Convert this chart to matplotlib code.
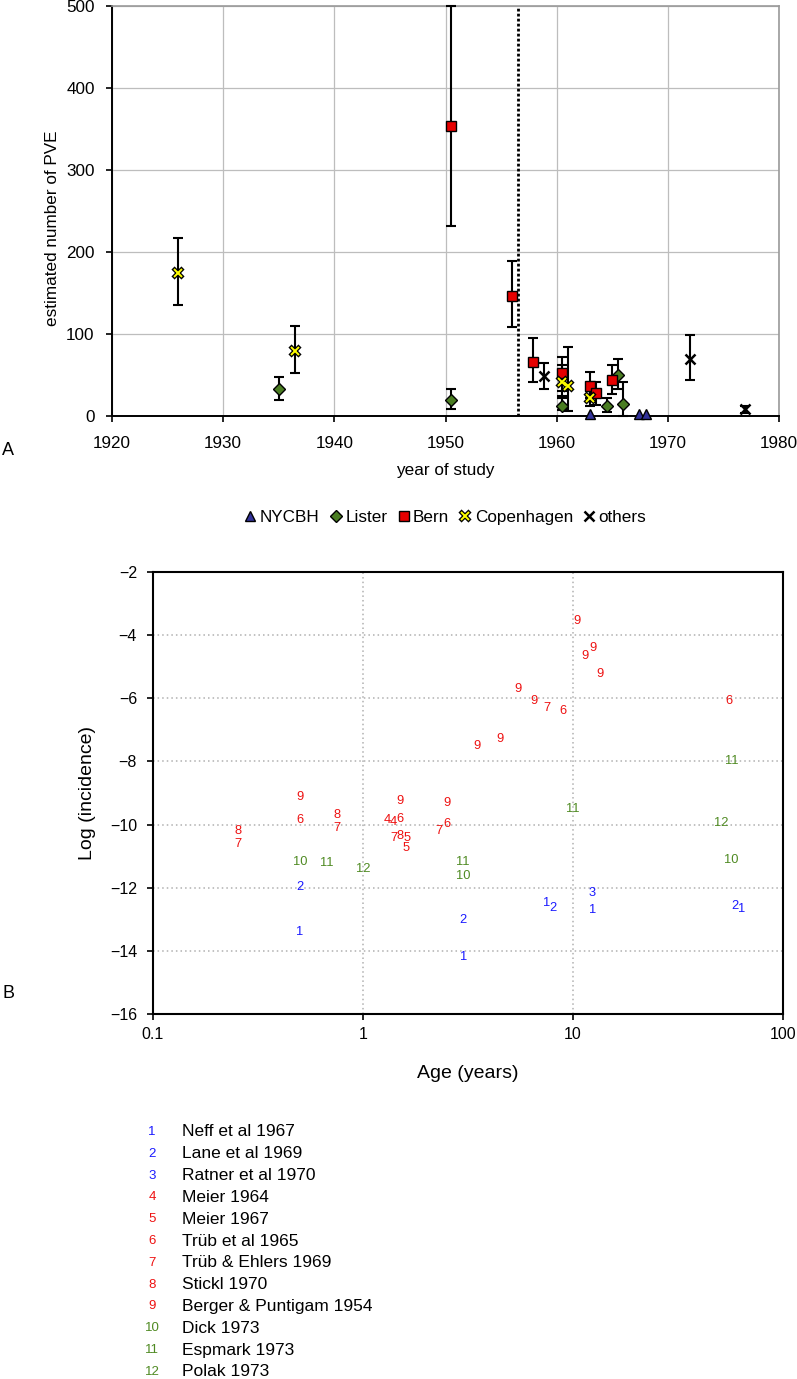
import matplotlib
matplotlib.use('Agg')
import matplotlib.pyplot as plt
from matplotlib.legend_handler import HandlerTuple

plt.rcParams['font.family'] = ['Liberation Sans', 'DejaVu Sans']

# ---------------- Panel A data ----------------
nycbh_year = [1963.0, 1967.4, 1968.0]
nycbh_val = [2, 2, 2]

lister_year = [1935.0, 1950.5, 1960.5, 1964.5, 1965.5, 1966.0]
lister_val = [33, 20, 12, 12, 50, 15]
lister_lo = [20, 8, 7, 5, 33, 0]
lister_hi = [47, 33, 22, 22, 69, 42]

bern_year = [1950.5, 1956.0, 1957.9, 1960.5, 1963.0, 1963.5, 1965.0]
bern_val = [354, 146, 66, 52, 37, 28, 44]
bern_lo = [232, 108, 41, 30, 22, 14, 27]
bern_hi = [500, 189, 95, 72, 54, 41, 62]

copen_year = [1925.9, 1936.5, 1960.5, 1961.0, 1963.0]
copen_val = [174, 79, 41, 36, 22]
copen_lo = [135, 52, 25, 6, 12]
copen_hi = [217, 110, 62, 84, 30]

others_year = [1958.9, 1972.0, 1976.9]
others_val = [49, 69, 8]
others_lo = [33, 44, 4]
others_hi = [65, 99, 12]

cutoff_year = 1956.5

# ---------------- Panel B data ----------------
study_names = ["Neff et al 1967", "Lane et al 1969", "Ratner et al 1970",
               "Meier 1964", "Meier 1967", "Trüb et al 1965",
               "Trüb & Ehlers 1969", "Stickl 1970", "Berger & Puntigam 1954",
               "Dick 1973", "Espmark 1973", "Polak 1973"]
study_group = ['blue', 'blue', 'blue', 'red', 'red', 'red', 'red', 'red',
               'red', 'green', 'green', 'green']

label_ids = [1, 1, 1, 1, 1,
             2, 2, 2, 2,
             3,
             4, 4,
             5, 5,
             6, 6, 6, 6, 6,
             7, 7, 7, 7, 7,
             8, 8, 8,
             9, 9, 9, 9, 9, 9, 9, 9, 9, 9, 9,
             10, 10, 10,
             11, 11, 11, 11,
             12, 12]
label_ages = [0.5, 3.0, 7.5, 12.4, 63.4,
              0.5, 3.0, 8.0, 59.3,
              12.4,
              1.31, 1.40,
              1.63, 1.60,
              0.5, 1.5, 2.5, 9.0, 55.5,
              0.253, 0.75, 1.40, 2.30, 7.5,
              0.253, 0.75, 1.50,
              0.5, 1.5, 2.5, 3.5, 4.5, 5.5, 6.5, 10.5, 11.4, 12.5, 13.4,
              0.5, 3.0, 57.0,
              0.67, 3.0, 10.0, 56.9,
              1.0, 50.7]
label_vals = [-13.41, -14.20, -12.49, -12.71, -12.67,
              -11.97, -13.02, -12.65, -12.58,
              -12.18,
              -9.86, -9.91,
              -10.42, -10.74,
              -9.86, -9.82, -9.98, -6.39, -6.09,
              -10.62, -10.12, -10.44, -10.19, -6.32,
              -10.20, -9.70, -10.36,
              -9.12, -9.24, -9.33, -7.50, -7.29, -5.72, -6.09, -3.55, -4.66, -4.40, -5.23,
              -11.20, -11.63, -11.12,
              -11.21, -11.18, -9.52, -7.98,
              -11.42, -9.96]

group_colors = {'blue': '#1a1aff', 'red': '#ee1111', 'green': '#4f8a22'}

# ---------------- Figure ----------------
W, H = 797, 1379
fig = plt.figure(figsize=(W / 100, H / 100), dpi=100)


def fx(px):
    return px / W


def fy(py):
    return 1 - py / H


# ---------------- Panel A ----------------
axA = fig.add_axes([fx(112), fy(416), fx(779) - fx(112), fy(6) - fy(416)])
axA.set_xlim(1920, 1980)
axA.set_ylim(0, 500)
axA.set_xticks(range(1920, 1981, 10))
axA.set_yticks(range(0, 501, 100))
axA.grid(True, color='#bdbdbd', lw=0.9)
axA.set_axisbelow(True)
for s in ['left', 'bottom']:
    axA.spines[s].set_color('black')
    axA.spines[s].set_linewidth(1.4)
for s in ['top', 'right']:
    axA.spines[s].set_color('#9a9a9a')
    axA.spines[s].set_linewidth(1.2)
axA.tick_params(direction='out', length=4.5, width=1.2, labelsize=12.3, pad=8)
axA.tick_params(axis='x', pad=10)

axA.axvline(cutoff_year, color='black', lw=2.0, linestyle=(0, (1, 0.8)), zorder=2)


def ebar(ax, x, y, lo, hi):
    yerr = [[v - l for v, l in zip(y, lo)], [h - v for v, h in zip(y, hi)]]
    ax.errorbar(x, y, yerr=yerr, fmt='none', ecolor='black', elinewidth=1.5,
                capsize=3.5, capthick=1.5, zorder=3, clip_on=False)


ebar(axA, lister_year, lister_val, lister_lo, lister_hi)
ebar(axA, bern_year, bern_val, bern_lo, bern_hi)
ebar(axA, copen_year, copen_val, copen_lo, copen_hi)
ebar(axA, others_year, others_val, others_lo, others_hi)

ms = 7.5
h_nycbh, = axA.plot(nycbh_year, nycbh_val, ls='none', marker='^', ms=ms,
                    mfc='#33339a', mec='black', mew=1.0, zorder=5, clip_on=False)
h_lister, = axA.plot(lister_year, lister_val, ls='none', marker='D', ms=6.5,
                     mfc='#4a7d22', mec='black', mew=1.0, zorder=5)
h_bern, = axA.plot(bern_year, bern_val, ls='none', marker='s', ms=ms,
                   mfc='#e60000', mec='black', mew=1.0, zorder=5)
h_cop1, = axA.plot(copen_year, copen_val, ls='none', marker='x', ms=7,
                   mec='black', mew=3.2, zorder=5)
h_cop2, = axA.plot(copen_year, copen_val, ls='none', marker='x', ms=6,
                   mec='#ffff00', mew=1.4, zorder=6)
h_oth, = axA.plot(others_year, others_val, ls='none', marker='x', ms=7,
                  mec='black', mew=1.8, zorder=5)

fig.legend([h_nycbh, h_lister, h_bern, (h_cop1, h_cop2), h_oth],
           ['NYCBH', 'Lister', 'Bern', 'Copenhagen', 'others'],
           handler_map={tuple: HandlerTuple(ndivide=1)},
           loc='center', bbox_to_anchor=(fx(445), fy(517)), ncol=5,
           frameon=False, fontsize=12.3, handlelength=0.8, handletextpad=0.15,
           columnspacing=0.55, borderpad=0, borderaxespad=0)

fig.text(fx(53), fy(228), 'estimated number of PVE', rotation=90,
         ha='center', va='center', fontsize=12.3)
fig.text(fx(445), fy(470), 'year of study', ha='center', va='center', fontsize=12.3)
fig.text(fx(2), fy(451), 'A', ha='left', va='center', fontsize=13)

# ---------------- Panel B ----------------
axB = fig.add_axes([fx(153), fy(1014), fx(783) - fx(153), fy(572) - fy(1014)])
axB.set_xscale('log')
axB.set_xlim(0.1, 100)
axB.set_ylim(-16, -2)
axB.set_yticks(range(-16, -1, 2))
axB.set_xticks([0.1, 1, 10, 100])
axB.set_xticklabels(['0.1', '1', '10', '100'])
axB.minorticks_off()
axB.grid(True, color='#b0b0b0', lw=1.1, linestyle=(0, (1, 2)))
axB.set_axisbelow(True)
for s in axB.spines.values():
    s.set_color('black')
    s.set_linewidth(1.5)
axB.tick_params(direction='out', length=4.5, width=1.2, labelsize=11.5, pad=7)
axB.tick_params(axis='x', pad=5)

for sid, age, val in zip(label_ids, label_ages, label_vals):
    axB.text(age, val, str(sid), color=group_colors[study_group[sid - 1]],
             fontsize=9.3, ha='center', va='center', zorder=4)

fig.text(fx(87), fy(793), 'Log (incidence)', rotation=90, ha='center',
         va='center', fontsize=14)
fig.text(fx(468), fy(1074), 'Age (years)', ha='center', va='center', fontsize=14)
fig.text(fx(2), fy(993), 'B', ha='left', va='center', fontsize=13)

# study key
for i, name in enumerate(study_names):
    yy = 1132 + i * 21.8
    fig.text(fx(152), fy(yy), str(i + 1), color=group_colors[study_group[i]],
             ha='center', va='center', fontsize=9.5)
    fig.text(fx(182), fy(yy), name, ha='left', va='center', fontsize=12.5)

fig.savefig('out.png', dpi=100)
